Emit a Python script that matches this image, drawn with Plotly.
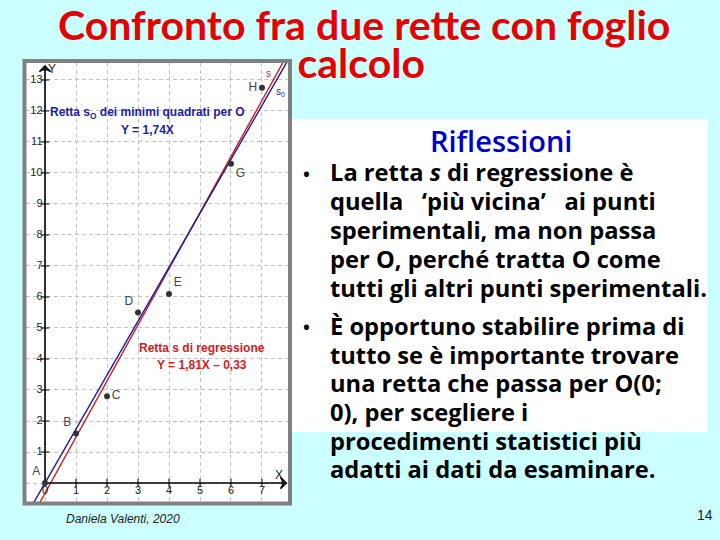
import plotly.graph_objects as go

# ---- data ----
point_names = ["A", "B", "C", "D", "E", "G", "H"]
point_x = [0, 1, 2, 3, 4, 6, 7]
point_y = [0, 1.6, 2.8, 5.5, 6.1, 10.3, 12.75]
label_pos = ["top left", "top left", "middle right", "top left", "top right", "bottom right", "middle left"]

line_x = [-1, 9]
s_slope, s_intercept = 1.81, -0.33
s0_slope = 1.74

x_ticks = [0, 1, 2, 3, 4, 5, 6, 7]
y_ticks = [1, 2, 3, 4, 5, 6, 7, 8, 9, 10, 11, 12, 13]
x_axis_end = 7.78
y_axis_end = 13.45

title_line1 = "Confronto fra due rette con foglio"
title_line2 = "di calcolo"
box_title = "Riflessioni"
bullet1 = ["La retta <i>s</i> di regressione è",
           "quella   ‘più vicina’   ai punti",
           "sperimentali, ma non passa",
           "per O, perché tratta O come",
           "tutti gli altri punti sperimentali."]
bullet2 = ["È opportuno stabilire prima di",
           "tutto se è importante trovare",
           "una retta che passa per O(0;",
           "0), per scegliere i",
           "procedimenti statistici più",
           "adatti ai dati da esaminare."]

W, H = 720, 540
BG = "#CCFFFF"
RED = "#CC1F1F"
BLUE = "#1A1A9E"
TITLE_RED = "#E60000"
GRID = "#C4C4C4"


def px(x):
    return x / W


def py(y):
    return 1 - y / H


fig = go.Figure()

C = dict(xaxis="x", yaxis="y")

# regression lines
fig.add_trace(go.Scatter(x=line_x, y=[s_slope * v + s_intercept for v in line_x], mode="lines",
                         line=dict(color=RED, width=1.4), hoverinfo="skip", **C))
fig.add_trace(go.Scatter(x=line_x, y=[s0_slope * v for v in line_x], mode="lines",
                         line=dict(color=BLUE, width=1.4), hoverinfo="skip", **C))

# axes (positive half only) with arrowheads
fig.add_trace(go.Scatter(x=[0, x_axis_end], y=[0, 0], mode="lines", line=dict(color="black", width=1.6),
                         hoverinfo="skip", **C))
fig.add_trace(go.Scatter(x=[0, 0], y=[0, y_axis_end], mode="lines", line=dict(color="black", width=1.6),
                         hoverinfo="skip", **C))
fig.add_trace(go.Scatter(x=[x_axis_end, 0], y=[0, y_axis_end], mode="markers",
                         marker=dict(symbol="arrow-wide-open", angle=[90, 0], size=8,
                                     line=dict(color="black", width=1.6), color="black"),
                         cliponaxis=False, hoverinfo="skip", **C))

# tick marks
fig.add_trace(go.Scatter(x=x_ticks[1:], y=[0] * (len(x_ticks) - 1), mode="markers",
                         marker=dict(symbol="line-ns", size=6, line=dict(color="black", width=1)),
                         hoverinfo="skip", **C))
fig.add_trace(go.Scatter(x=[0] * len(y_ticks), y=y_ticks, mode="markers",
                         marker=dict(symbol="line-ew", size=6, line=dict(color="black", width=1)),
                         hoverinfo="skip", **C))
# tick labels
fig.add_trace(go.Scatter(x=x_ticks, y=[-0.08] * len(x_ticks), mode="text",
                         text=[str(v) for v in x_ticks], textposition="bottom center",
                         textfont=dict(family="Liberation Sans", size=11, color="#222"),
                         cliponaxis=False, hoverinfo="skip", **C))
fig.add_trace(go.Scatter(x=[-0.08] * len(y_ticks), y=y_ticks, mode="text",
                         text=[str(v) for v in y_ticks], textposition="middle left",
                         textfont=dict(family="Liberation Sans", size=11, color="#222"),
                         cliponaxis=False, hoverinfo="skip", **C))

# points
fig.add_trace(go.Scatter(x=point_x, y=point_y, mode="markers+text", text=point_names,
                         textposition=label_pos,
                         textfont=dict(family="Liberation Sans", size=12, color="#444"),
                         marker=dict(color="#333", size=6), hoverinfo="skip", **C))

# second title line: drawn in a canvas right of the chart, so the part behind the chart is clipped
fig.add_trace(go.Scatter(x=[425], y=[68], mode="text", text=[title_line2], textposition="middle left",
                         textfont=dict(family="Lato", size=41, color=TITLE_RED, weight="bold"),
                         xaxis="x2", yaxis="y2", cliponaxis=True, hoverinfo="skip"))

# white chart background
fig.add_shape(type="rect", xref="x", yref="y", x0=-2, x1=10, y0=-2, y1=16,
              fillcolor="white", line=dict(width=0), layer="below")

ann_center = dict(showarrow=False, xanchor="center", yanchor="middle")

fig.add_annotation(x=0.22, y=13.35, xref="x", yref="y", text="Y",
                   font=dict(family="Liberation Sans", size=12, color="#222"), **ann_center)
fig.add_annotation(x=7.55, y=0.27, xref="x", yref="y", text="X",
                   font=dict(family="Liberation Sans", size=12, color="#222"), **ann_center)

# line labels
fig.add_annotation(x=7.2, y=13.2, xref="x", yref="y", text="s",
                   font=dict(family="Liberation Sans", size=10, color=RED), **ann_center)
fig.add_annotation(x=7.6, y=12.6, xref="x", yref="y", text="s<sub>0</sub>",
                   font=dict(family="Liberation Sans", size=10, color=BLUE), **ann_center)

# equations in chart
fig.add_annotation(x=3.3, y=11.95, xref="x", yref="y", text="<b>Retta s<sub>O</sub> dei minimi quadrati per O</b>",
                   font=dict(family="Liberation Sans", size=12, color="#2020B0"), **ann_center)
fig.add_annotation(x=3.3, y=11.4, xref="x", yref="y", text="<b>Y = 1,74X</b>",
                   font=dict(family="Liberation Sans", size=12, color="#2020B0"), **ann_center)
fig.add_annotation(x=5.05, y=4.35, xref="x", yref="y", text="<b>Retta s di regressione</b>",
                   font=dict(family="Liberation Sans", size=12, color="#D02020"), **ann_center)
fig.add_annotation(x=5.05, y=3.8, xref="x", yref="y", text="<b>Y = 1,81X – 0,33</b>",
                   font=dict(family="Liberation Sans", size=12, color="#D02020"), **ann_center)

# white text box and chart border
fig.add_shape(type="rect", xref="paper", yref="paper", x0=px(292), x1=px(708), y0=py(432), y1=py(119),
              fillcolor="white", line=dict(width=0), layer="below")
fig.add_shape(type="rect", xref="paper", yref="paper", x0=px(24.5), x1=px(290), y0=py(503.5), y1=py(61),
              fillcolor="rgba(0,0,0,0)", line=dict(color="#808080", width=4), layer="above")

# title line 1
fig.add_annotation(x=px(364), y=py(25), xref="paper", yref="paper", text="<b>" + title_line1 + "</b>",
                   font=dict(family="Lato", size=41, color=TITLE_RED), **ann_center)

# box heading
fig.add_annotation(x=px(501), y=py(140), xref="paper", yref="paper", text=box_title,
                   font=dict(family="Open Sans", size=29, color="#0000CC", weight=600), **ann_center)

body_font = dict(family="Open Sans", size=23.7, color="black")
ys1 = [172, 201, 230, 259, 288]
ys2 = [326, 355, 383, 412, 441, 469]
fig.add_annotation(x=px(306), y=py(174), xref="paper", yref="paper", text="•", font=body_font, **ann_center)
fig.add_annotation(x=px(306), y=py(327), xref="paper", yref="paper", text="•", font=body_font, **ann_center)
for t, yy in zip(bullet1, ys1):
    fig.add_annotation(x=px(328), y=py(yy), xref="paper", yref="paper", text="<b>" + t + "</b>",
                       font=body_font, showarrow=False, xanchor="left", yanchor="middle")
for t, yy in zip(bullet2, ys2):
    fig.add_annotation(x=px(328), y=py(yy), xref="paper", yref="paper", text="<b>" + t + "</b>",
                       font=body_font, showarrow=False, xanchor="left", yanchor="middle")

# footer
fig.add_annotation(x=px(123), y=py(519), xref="paper", yref="paper", text="<i>Daniela Valenti, 2020</i>",
                   font=dict(family="Liberation Sans", size=12, color="#222"), **ann_center)
fig.add_annotation(x=px(705), y=py(515), xref="paper", yref="paper", text="14",
                   font=dict(family="Liberation Sans", size=14, color="#222"), **ann_center)

fig.update_layout(
    xaxis=dict(domain=[px(26), px(288)], range=[-0.613, 7.839], anchor="y", showgrid=True,
               gridcolor=GRID, griddash="4px,3px", gridwidth=1, dtick=1, tick0=0, zeroline=False,
               showticklabels=False, showline=False, ticks="", fixedrange=True),
    yaxis=dict(domain=[py(502), py(63)], range=[-0.613, 13.548], anchor="x", showgrid=True,
               gridcolor=GRID, griddash="4px,3px", gridwidth=1, dtick=1, tick0=0, zeroline=False,
               showticklabels=False, showline=False, ticks="", fixedrange=True),
    # title canvas to the right of the chart
    xaxis2=dict(domain=[px(292), 1], range=[292, W], anchor="y2", visible=False, fixedrange=True),
    yaxis2=dict(domain=[py(110), 1], range=[110, 0], anchor="x2", visible=False, fixedrange=True),
)

fig.update_layout(width=W, height=H, autosize=False, margin=dict(l=0, r=0, t=0, b=0),
                  paper_bgcolor=BG, plot_bgcolor=BG, showlegend=False, hovermode=False)

fig.write_html("out.html", config={"displayModeBar": False, "staticPlot": True},
               post_script="document.body.style.margin='0px';")
